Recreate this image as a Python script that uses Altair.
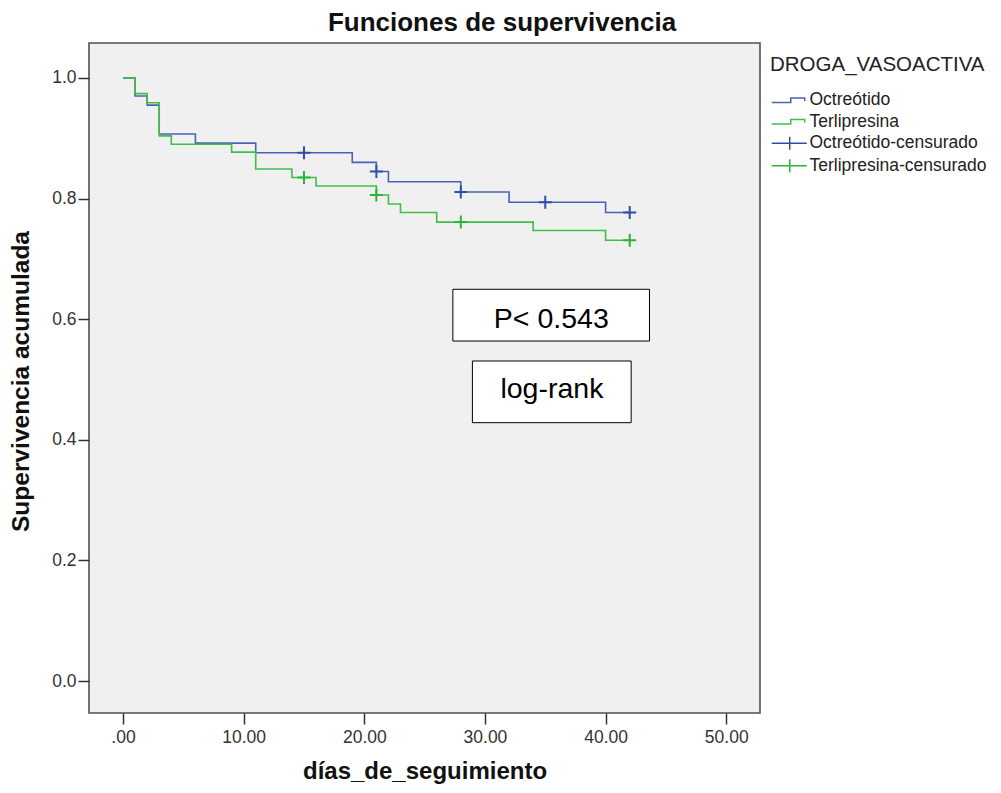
import altair as alt
import pandas as pd

# ---- data ----
OCT_T = [0, 1, 2, 3, 6, 11, 19, 21, 22, 28, 32, 40, 42]
OCT_S = [1.0, 0.970, 0.955, 0.907, 0.892, 0.876, 0.860, 0.845, 0.828, 0.811, 0.794, 0.777, 0.777]
TER_T = [0, 1, 2, 3, 4, 9, 11, 14, 16, 21, 22, 23, 26, 34, 40, 42]
TER_S = [1.0, 0.974, 0.959, 0.904, 0.890, 0.877, 0.849, 0.835, 0.821, 0.806, 0.791, 0.777, 0.761, 0.747, 0.731, 0.731]
OCT_CENS_T = [15, 21, 28, 35, 42]
OCT_CENS_S = [0.876, 0.845, 0.811, 0.794, 0.777]
TER_CENS_T = [15, 21, 28, 42]
TER_CENS_S = [0.835, 0.806, 0.761, 0.731]

GROUPS = ["Octreótido", "Terlipresina", "Octreótido-censurado", "Terlipresina-censurado"]
X_TICKS = [0, 10, 20, 30, 40, 50]
Y_TICKS = [0.0, 0.2, 0.4, 0.6, 0.8, 1.0]

ANNOT_TEXT = ["P< 0.543", "log-rank"]
ANNOT_X1 = [27.34, 28.96]
ANNOT_X2 = [43.64, 42.12]
ANNOT_Y1 = [0.6496, 0.5307]
ANNOT_Y2 = [0.5638, 0.4284]
ANNOT_TX = [35.5, 35.55]
ANNOT_TY = [0.585, 0.469]

# ---- styles ----
COLORS = ["#4a63b8", "#3fbf45", "#2f4dab", "#2eb33a"]
STEP_PATH = "M-1.17,0.36L2,0.36L2,-0.36L4.33,-0.36L4.33,0.12"
CROSS_LEG = "M-1.17,0L4.67,0M1.83,-1.08L1.83,1.08"
CROSS = "M-1,0L1,0M0,-1L0,1"
FONT = "Liberation Sans"

lines = pd.DataFrame({
    "t": OCT_T + TER_T,
    "s": OCT_S + TER_S,
    "grupo": [GROUPS[0]] * len(OCT_T) + [GROUPS[1]] * len(TER_T),
})
cens = pd.DataFrame({
    "t": OCT_CENS_T + TER_CENS_T,
    "s": OCT_CENS_S + TER_CENS_S,
    "grupo": [GROUPS[2]] * len(OCT_CENS_T) + [GROUPS[3]] * len(TER_CENS_T),
})
allpts = pd.concat([lines, cens], ignore_index=True)
annot = pd.DataFrame({
    "txt": ANNOT_TEXT, "x1": ANNOT_X1, "x2": ANNOT_X2,
    "y1": ANNOT_Y1, "y2": ANNOT_Y2, "tx": ANNOT_TX, "ty": ANNOT_TY,
})

xscale = alt.Scale(domain=[-2.82, 52.8], nice=False, zero=False)
yscale = alt.Scale(domain=[-0.053, 1.058], nice=False, zero=False)
cscale = alt.Scale(domain=GROUPS, range=COLORS)

X = alt.X("t:Q", scale=xscale, axis=alt.Axis(
    values=X_TICKS, title="días_de_seguimiento",
    labelExpr="datum.value == 0 ? '.00' : format(datum.value, '.2f')",
    labelPadding=4, titleY=65, titleBaseline="alphabetic"))
Y = alt.Y("s:Q", scale=yscale, axis=alt.Axis(
    values=Y_TICKS, format=".1f", title="Supervivencia acumulada",
    labelPadding=2, titleX=-61, titleY=338, titleBaseline="alphabetic",
    titleAngle=270, titleAlign="center", titleFontSize=24.5))


def step_layer(i):
    return alt.Chart(lines).transform_filter(alt.datum.grupo == GROUPS[i]).mark_line(
        interpolate="step-after", strokeWidth=1.6, color=COLORS[i]).encode(x=X, y=Y)


def cens_layer(i):
    return alt.Chart(cens).transform_filter(alt.datum.grupo == GROUPS[i + 2]).mark_point(
        shape=CROSS, size=169, strokeWidth=2, filled=False, opacity=1, color=COLORS[i + 2]).encode(
        x="t:Q", y="s:Q")


leg = alt.Legend(
    title="DROGA_VASOACTIVA", orient="none", legendX=681, legendY=12,
    titleFont=FONT, titleFontSize=20.5, titleFontWeight="normal", titleColor="#222", titleLimit=400,
    labelFont=FONT, labelFontSize=17.5, labelColor="#222", labelLimit=300,
    symbolSize=144, symbolStrokeWidth=1.5, labelOffset=22, rowPadding=2.5,
    titlePadding=16, symbolOpacity=1, padding=0)

legend_layer = alt.Chart(allpts).mark_point(opacity=0, filled=False, strokeWidth=1.5).encode(
    x="t:Q", y="s:Q",
    color=alt.Color("grupo:N", scale=cscale, legend=leg),
    shape=alt.Shape("grupo:N", scale=alt.Scale(domain=GROUPS, range=[STEP_PATH, STEP_PATH, CROSS_LEG, CROSS_LEG]), legend=leg))

rects = alt.Chart(annot).mark_rect(fill="white", stroke="black", strokeWidth=1).encode(
    x="x1:Q", x2="x2:Q", y="y1:Q", y2="y2:Q")
texts = alt.Chart(annot).mark_text(font=FONT, fontSize=28.5, color="black", baseline="alphabetic", align="center").encode(
    x="tx:Q", y="ty:Q", text="txt:N")

chart = alt.layer(
    step_layer(0), step_layer(1), cens_layer(0), cens_layer(1), rects, texts, legend_layer
).properties(
    width=671, height=670,
    autosize=alt.AutoSizeParams(type="none"),
    padding={"left": 81, "top": 35, "right": 230, "bottom": 72},
    background="white",
    title=alt.TitleParams("Funciones de supervivencia", font=FONT, fontSize=26, fontWeight="bold",
                          color="#111", anchor="middle", frame="group", dx=77.5, offset=7),
).configure_view(fill="#f0f0f0", stroke="#505050", strokeWidth=1.6).configure_axis(
    domain=False, grid=False, ticks=True, tickSize=11, tickWidth=1.5, tickColor="#333",
    labelFont=FONT, labelFontSize=17.5, labelColor="#333",
    titleFont=FONT, titleFontSize=24, titleFontWeight="bold", titleColor="#111",
)

chart.save("out.html", embed_options={"renderer": "svg", "actions": False})
